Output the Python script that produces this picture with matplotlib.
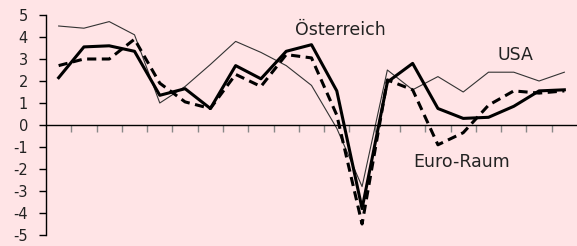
import matplotlib
matplotlib.use("Agg")
from matplotlib import pyplot as plt

# BIP-Wachstum in % (Jahre 1997-2017)
years = list(range(1997, 2018))
austria = [2.15, 3.55, 3.6, 3.35, 1.35, 1.65, 0.75, 2.7, 2.1, 3.35, 3.65,
           1.55, -3.8, 1.95, 2.8, 0.75, 0.3, 0.35, 0.85, 1.55, 1.6]
euro_area = [2.7, 3.0, 3.0, 3.9, 1.9, 1.05, 0.75, 2.3, 1.75, 3.2, 3.05,
             0.45, -4.5, 2.05, 1.6, -0.9, -0.35, 0.9, 1.55, 1.45, 1.55]
usa = [4.5, 4.4, 4.7, 4.1, 1.0, 1.75, 2.75, 3.8, 3.3, 2.7, 1.8,
       -0.15, -2.8, 2.5, 1.6, 2.2, 1.5, 2.4, 2.4, 2.0, 2.4]
yticks = [-5, -4, -3, -2, -1, 0, 1, 2, 3, 4, 5]

bg = "#FFE4E6"
plt.rcParams['font.family'] = ['DejaVu Sans']

fig = plt.figure(figsize=(5.77, 2.46), dpi=100, facecolor=bg)
ax = fig.add_axes([46 / 577, 1 - 235 / 246, 1 - 46 / 577, 220 / 246], facecolor=bg)

x = list(range(len(years)))
ax.plot(x, usa, color="#333333", lw=0.8)
ax.plot(x, euro_area, color="black", lw=2.2, ls=(0, (3, 1.8)))
ax.plot(x, austria, color="black", lw=2.2)

ax.set_xlim(-0.5, len(years) - 0.5)
ax.set_ylim(-5, 5)
ax.set_yticks(yticks)
ax.set_yticklabels([str(v) for v in yticks], fontsize=10.5, color="#222222")
ax.set_xticks([i + 0.5 for i in x[:-1]])
ax.set_xticklabels([])

for s in ["top", "right"]:
    ax.spines[s].set_visible(False)
ax.spines["bottom"].set_position(("data", 0))
ax.spines["bottom"].set_linewidth(1.0)
ax.spines["left"].set_linewidth(1.0)
ax.tick_params(axis="y", direction="out", length=5, width=1, pad=8)
ax.tick_params(axis="x", direction="out", length=5, width=1, color="#888888")

ax.text(11.15, 4.32, "Österreich", ha="center", va="center", fontsize=12.5, color="#222222")
ax.text(18.05, 3.18, "USA", ha="center", va="center", fontsize=12.5, color="#222222")
ax.text(15.94, -1.68, "Euro-Raum", ha="center", va="center", fontsize=12.5, color="#222222")

fig.savefig("out.png", dpi=100, facecolor=bg)
